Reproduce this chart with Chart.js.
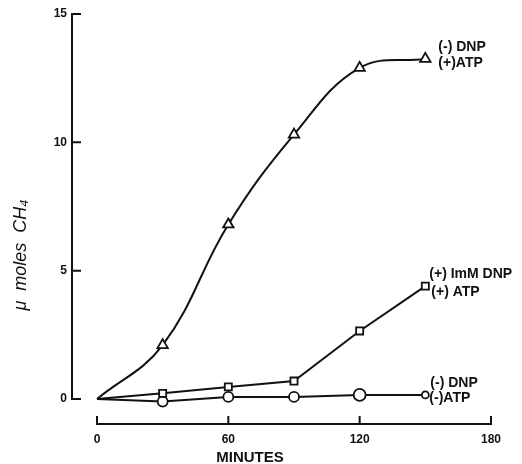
<!DOCTYPE html>
<html>
<head>
<meta charset="utf-8">
<script src="https://cdn.jsdelivr.net/npm/chart.js@4/dist/chart.umd.min.js"></script>
<style>
  html, body { margin: 0; padding: 0; background: #fff; }
  #wrap { width: 522px; height: 464px; }
</style>
</head>
<body>
<div id="wrap"><canvas id="methaneChart" width="522" height="464"></canvas></div>
<script>
// values
var minutes = [0, 30, 60, 90, 120, 150];
var noDnpPlusAtp = [0, 2.1, 6.8, 10.3, 12.9, 13.25];
var dnpPlusAtp = [0, 0.22, 0.47, 0.7, 2.65, 4.4];
var noDnpNoAtp = [0, -0.1, 0.08, 0.08, 0.16, 0.16];
var xTicks = [0, 60, 120, 180];
var yTicks = [0, 5, 10, 15];
var seriesNotes = [
  ["(-) DNP", "(+)ATP"],
  ["(+) ImM DNP", "(+) ATP"],
  ["(-) DNP", "(-)ATP"]
];

function pts(vals) {
  return minutes.map(function (m, i) { return { x: m, y: vals[i] }; });
}

var ink = "#111";

// axes, end notes and titles drawn by hand, like the paper figure
var paperAxes = {
  id: "paperAxes",
  afterDraw: function (chart) {
    var ctx = chart.ctx;
    var xs = chart.scales.x, ys = chart.scales.y;
    ctx.save();
    ctx.strokeStyle = ink;
    ctx.lineWidth = 2;
    ctx.lineCap = "square";

    // y axis with inward ticks
    var ax = 72;
    ctx.beginPath();
    ctx.moveTo(ax, ys.getPixelForValue(15));
    ctx.lineTo(ax, ys.getPixelForValue(0));
    yTicks.forEach(function (v) {
      var py = ys.getPixelForValue(v);
      ctx.moveTo(ax, py);
      ctx.lineTo(ax + 8, py);
    });
    ctx.stroke();

    // x axis, offset below
    var ay = 424;
    ctx.beginPath();
    ctx.moveTo(xs.getPixelForValue(0), ay);
    ctx.lineTo(xs.getPixelForValue(180), ay);
    xTicks.forEach(function (v) {
      var px = xs.getPixelForValue(v);
      ctx.moveTo(px, ay);
      ctx.lineTo(px, ay - 7);
    });
    ctx.stroke();

    // notes next to the last point of each curve
    ctx.fillStyle = ink;
    ctx.font = "bold 14px 'Liberation Sans', Arial, sans-serif";
    ctx.textBaseline = "middle";
    ctx.textAlign = "left";
    var offs = [[13, -11.5, 13, 4], [4, -12, 6, 6], [5, -12, 4, 3]];
    chart.data.datasets.forEach(function (ds, i) {
      var last = ds.data[ds.data.length - 1];
      var px = xs.getPixelForValue(last.x), py = ys.getPixelForValue(last.y);
      var o = offs[i];
      ctx.fillText(seriesNotes[i][0], px + o[0], py + o[1]);
      ctx.fillText(seriesNotes[i][1], px + o[2], py + o[3]);
    });

    // x title
    ctx.font = "bold 15px 'Liberation Sans', Arial, sans-serif";
    ctx.textAlign = "center";
    ctx.fillText("MINUTES", 250, 458);

    // y title
    ctx.translate(21, 255);
    ctx.rotate(-Math.PI / 2);
    ctx.font = "italic 18px 'Liberation Sans', Arial, sans-serif";
    ctx.fillText("\u03bc  moles  CH\u2084", 0, 0);
    ctx.restore();
  }
};

var lineStyle = {
  borderColor: ink,
  borderWidth: 2,
  pointBackgroundColor: "#fff",
  pointBorderColor: ink,
  pointBorderWidth: 1.8,
  clip: false
};

var methaneChart = new Chart(document.getElementById("methaneChart"), {
  type: "line",
  data: {
    datasets: [
      Object.assign({
        label: seriesNotes[0].join(" "),
        data: pts(noDnpPlusAtp),
        tension: 0.4,
        pointStyle: "triangle",
        pointRadius: [0, 6, 6, 6, 6, 6]
      }, lineStyle),
      Object.assign({
        label: seriesNotes[1].join(" "),
        data: pts(dnpPlusAtp),
        tension: 0,
        pointStyle: "rect",
        pointRadius: [0, 5, 5, 5, 5, 5]
      }, lineStyle),
      Object.assign({
        label: seriesNotes[2].join(" "),
        data: pts(noDnpNoAtp),
        tension: 0,
        pointStyle: "circle",
        pointRadius: [0, 5, 5, 5, 6, 3.5]
      }, lineStyle)
    ]
  },
  options: {
    responsive: false,
    animation: false,
    layout: { padding: { top: 14, right: 31, left: 0, bottom: 0 } },
    plugins: { legend: { display: false }, tooltip: { enabled: false } },
    scales: {
      x: {
        type: "linear",
        min: -11.42,
        max: 180,
        grid: { display: false, drawTicks: false },
        border: { display: false },
        afterBuildTicks: function (s) { s.ticks = xTicks.map(function (v) { return { value: v }; }); },
        afterFit: function (s) { s.height = 40; },
        ticks: {
          padding: 8,
          color: ink,
          font: { family: "'Liberation Sans', Arial, sans-serif", size: 12, weight: "bold" }
        }
      },
      y: {
        min: -0.974,
        max: 15,
        grid: { display: false, drawTicks: false },
        border: { display: false },
        afterBuildTicks: function (s) { s.ticks = yTicks.map(function (v) { return { value: v }; }); },
        afterFit: function (s) { s.width = 72; },
        ticks: {
          padding: 5,
          color: ink,
          font: { family: "'Liberation Sans', Arial, sans-serif", size: 12, weight: "bold" }
        }
      }
    }
  },
  plugins: [paperAxes]
});
</script>
</body>
</html>
